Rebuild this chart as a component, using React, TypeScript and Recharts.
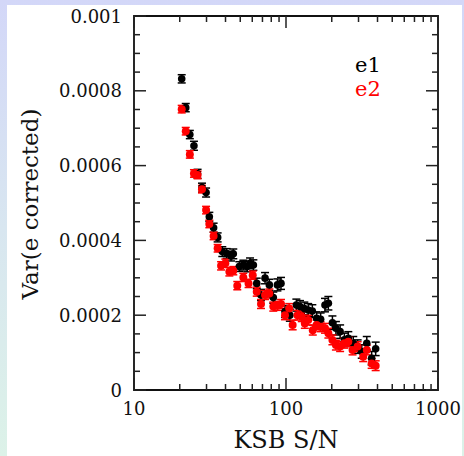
import { ScatterChart, Scatter, XAxis, YAxis, ErrorBar, Legend, ReferenceArea } from "recharts";

const FONT = "DejaVu Serif";

// KSB S/N bins and Var(e corrected)
const e1X = [20.6, 21.9, 23.3, 24.8, 26.2, 28.0, 29.8, 31.3, 33.4, 35.5, 38.1, 40.7, 43.5, 45, 49.3, 52.4, 55.6, 58, 61, 64.2, 68.5, 72.8, 77.7, 82.5, 87.8, 92.7, 98.5, 106, 117, 123.6, 132, 140, 149, 159, 169, 180.5, 190, 202, 213, 227, 242, 257, 277, 296, 315, 340, 366, 389];
const e1Var = [0.000832, 0.000755, 0.000683, 0.000653, 0.000578, 0.000541, 0.000528, 0.000463, 0.000434, 0.000408, 0.00037, 0.000365, 0.000358, 0.000364, 0.00033, 0.000334, 0.00033, 0.000339, 0.000334, 0.000285, 0.000254, 0.000299, 0.000281, 0.000247, 0.000281, 0.000285, 0.00021, 0.0002, 0.000227, 0.000223, 0.000218, 0.000214, 0.000211, 0.000192, 0.000189, 0.000227, 0.000232, 0.00018, 0.000165, 0.000156, 0.000134, 0.000138, 0.000125, 0.000116, 0.000103, 0.000125, 0.000085, 0.00011];
const e1Err = [0.000011, 0.000011, 0.000011, 0.000012, 0.000012, 0.000012, 0.000012, 0.000012, 0.000012, 0.000012, 0.000013, 0.000013, 0.000013, 0.000013, 0.000013, 0.000013, 0.000014, 0.000014, 0.000014, 0.000014, 0.000015, 0.000015, 0.000015, 0.000015, 0.000016, 0.000016, 0.000016, 0.000016, 0.000016, 0.000016, 0.000017, 0.000017, 0.000017, 0.000017, 0.000017, 0.000018, 0.000018, 0.000018, 0.000018, 0.000018, 0.000018, 0.000018, 0.000018, 0.000018, 0.000018, 0.000018, 0.000018, 0.000018];

const e2X = [20.6, 21.9, 23.3, 24.8, 26.2, 28, 29.8, 31.3, 33.4, 35.5, 37.4, 39.9, 42.4, 45, 47.8, 52.4, 56.7, 60.4, 64.2, 68.5, 72.8, 77.7, 82.5, 87.8, 92.7, 98.5, 105, 110.6, 119, 127, 133, 140, 150, 159, 169, 180.5, 190, 202, 213, 227, 242, 257, 274, 296, 322, 340, 366, 389];
const e2Var = [0.000751, 0.000692, 0.00063, 0.000579, 0.000575, 0.000537, 0.000481, 0.000444, 0.000412, 0.000379, 0.000332, 0.000339, 0.000316, 0.000319, 0.000279, 0.000301, 0.000285, 0.000307, 0.000263, 0.00023, 0.000254, 0.000258, 0.000223, 0.000225, 0.00023, 0.0002, 0.000218, 0.000174, 0.0002, 0.000196, 0.000178, 0.000187, 0.00016, 0.000174, 0.000169, 0.000165, 0.000152, 0.000134, 0.00012, 0.000116, 0.000125, 0.000129, 0.000107, 0.000116, 0.000089, 0.000107, 0.000071, 0.000065];
const e2Err = [0.00001, 0.00001, 0.00001, 0.00001, 0.00001, 0.00001, 0.00001, 0.00001, 0.00001, 0.00001, 0.000011, 0.000011, 0.000011, 0.000011, 0.000011, 0.000011, 0.000011, 0.000011, 0.000012, 0.000012, 0.000012, 0.000012, 0.000012, 0.000012, 0.000012, 0.000012, 0.000013, 0.000013, 0.000013, 0.000013, 0.000013, 0.000013, 0.000013, 0.000013, 0.000013, 0.000013, 0.000013, 0.000013, 0.000013, 0.000013, 0.000013, 0.000013, 0.000013, 0.000013, 0.000013, 0.000013, 0.000013, 0.000013];

const xDomain = [10, 1000];
const yDomain = [0, 0.001];
const xTicks = [10, 20, 30, 40, 50, 60, 70, 80, 90, 100, 200, 300, 400, 500, 600, 700, 800, 900, 1000];
const xMajor = [10, 100, 1000];
const yTicks = [0, 0.00005, 0.0001, 0.00015, 0.0002, 0.00025, 0.0003, 0.00035, 0.0004, 0.00045, 0.0005, 0.00055, 0.0006, 0.00065, 0.0007, 0.00075, 0.0008, 0.00085, 0.0009, 0.00095, 0.001];
const yMajor = [0, 0.0002, 0.0004, 0.0006, 0.0008, 0.001];
const yMajorLabels = ["0", "0.0002", "0.0004", "0.0006", "0.0008", "0.001"];

const e1Data = e1X.map((x, i) => ({ x, y: e1Var[i], err: e1Err[i] }));
const e2Data = e2X.map((x, i) => ({ x, y: e2Var[i], err: e2Err[i] }));

const W = 464;
const H = 456;
const margin = { top: 16, right: 26, bottom: 0, left: 0 };
const plotTop = margin.top;
const plotRight = W - margin.right;

const tickStroke = "#222";

// ticks point inward on all four sides, like the original frame
function BottomTick({ x, y, payload }: any) {
  const len = xMajor.includes(payload.value) ? 12 : 6;
  return (
    <g>
      <line x1={x} x2={x} y1={y} y2={y - len} stroke={tickStroke} strokeWidth={1.5} />
      <line x1={x} x2={x} y1={plotTop} y2={plotTop + len} stroke={tickStroke} strokeWidth={1.5} />
      {len === 12 && (
        <text x={x} y={y + 25} textAnchor="middle" fontFamily={FONT} fontSize={18} fill="#111">
          {payload.value}
        </text>
      )}
    </g>
  );
}

function LeftTick({ x, y, payload }: any) {
  const idx = yMajor.indexOf(payload.value);
  const len = idx >= 0 ? 12 : 6;
  return (
    <g>
      <line x1={x} x2={x + len} y1={y} y2={y} stroke={tickStroke} strokeWidth={1.5} />
      <line x1={plotRight} x2={plotRight - len} y1={y} y2={y} stroke={tickStroke} strokeWidth={1.5} />
      {idx >= 0 && (
        <text x={x - 12} y={y + 6.5} textAnchor="end" fontFamily={FONT} fontSize={18} fill="#111">
          {yMajorLabels[idx]}
        </text>
      )}
    </g>
  );
}

function LegendBox({ payload }: any) {
  return (
    <div style={{ fontFamily: FONT, fontSize: 21, lineHeight: "24px" }}>
      {(payload || []).map((p: any) => (
        <div key={p.value} style={{ color: p.color }}>{p.value}</div>
      ))}
    </div>
  );
}

export default function App() {
  return (
    <div
      style={{
        position: "absolute",
        left: 0,
        top: 0,
        width: W,
        height: H,
        background: "linear-gradient(180deg, #d3d7f8 0%, #d8e6f0 50%, #dcf2e8 100%)",
      }}
    >
      <div style={{ position: "absolute", left: 7, top: 5, width: 455, height: 451, background: "#fff" }} />
      <div style={{ position: "absolute", left: 0, top: 0 }}>
        <ScatterChart width={W} height={H} margin={margin}>
          <XAxis
            dataKey="x"
            type="number"
            scale="log"
            domain={xDomain}
            allowDataOverflow
            ticks={xTicks}
            interval={0}
            height={66}
            tickSize={0}
            tickMargin={0}
            tickLine={false}
            axisLine={false}
            tick={<BottomTick />}
            label={({ viewBox }: any) => (
              <text
                x={viewBox.x + viewBox.width / 2}
                y={viewBox.y + 58}
                textAnchor="middle"
                fontFamily={FONT}
                fontSize={24}
                fill="#111"
              >
                KSB S/N
              </text>
            )}
          />
          <YAxis
            dataKey="y"
            type="number"
            domain={yDomain}
            allowDataOverflow
            ticks={yTicks}
            interval={0}
            width={134}
            tickSize={0}
            tickMargin={0}
            tickLine={false}
            axisLine={false}
            tick={<LeftTick />}
            label={({ viewBox }: any) => {
              const cx = 38;
              const cy = viewBox.y + 188;
              return (
                <text
                  x={cx}
                  y={cy}
                  transform={`rotate(-90, ${cx}, ${cy})`}
                  textAnchor="middle"
                  fontFamily={FONT}
                  fontSize={23}
                  fill="#111"
                >
                  Var(e corrected)
                </text>
              );
            }}
          />
          {/* plot frame */}
          <ReferenceArea
            x1={xDomain[0]}
            x2={xDomain[1]}
            y1={yDomain[0]}
            y2={yDomain[1]}
            fill="none"
            stroke="#111"
            strokeWidth={1.8}
            ifOverflow="visible"
          />
          <Legend
            layout="vertical"
            align="center"
            verticalAlign="middle"
            wrapperStyle={{ left: 355, top: 53, width: 60 }}
            content={<LegendBox />}
          />
          <Scatter
            name="e1"
            data={e1Data}
            fill="#000"
            shape={(p: any) => <circle cx={p.cx} cy={p.cy} r={3.8} fill="#000" />}
            isAnimationActive={false}
          >
            <ErrorBar dataKey="err" direction="y" width={4} stroke="#000" strokeWidth={1.5} />
          </Scatter>
          <Scatter
            name="e2"
            data={e2Data}
            fill="#ff0000"
            shape={(p: any) => <circle cx={p.cx} cy={p.cy} r={4} fill="#ff0000" />}
            isAnimationActive={false}
          >
            <ErrorBar dataKey="err" direction="y" width={4} stroke="#ff0000" strokeWidth={1.5} />
          </Scatter>
        </ScatterChart>
      </div>
    </div>
  );
}
